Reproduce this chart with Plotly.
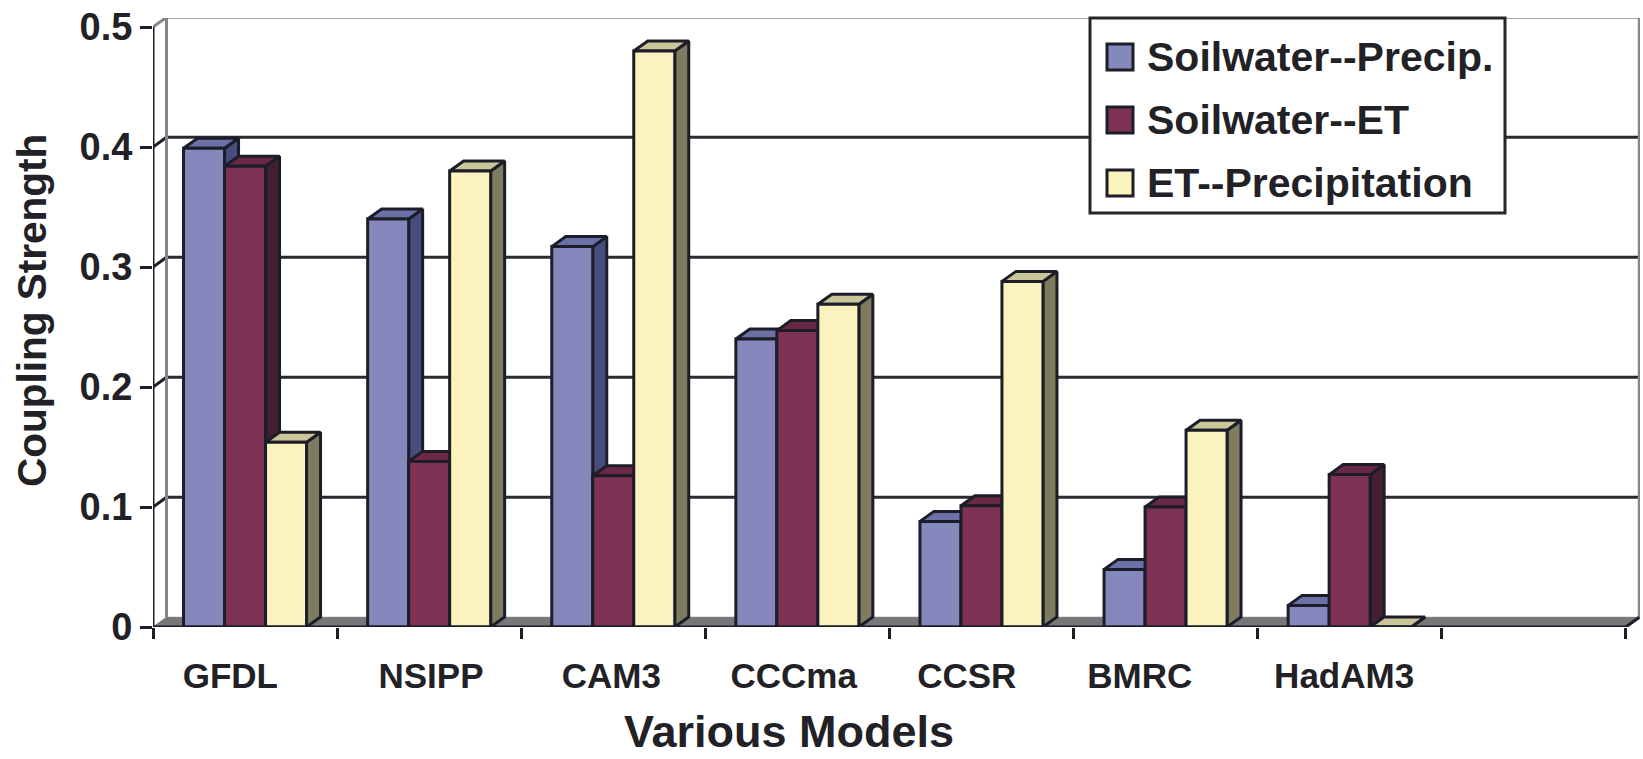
import plotly.graph_objects as go

categories = ["GFDL", "NSIPP", "CAM3", "CCCma", "CCSR", "BMRC", "HadAM3"]
soil_precip = [0.399, 0.340, 0.317, 0.240, 0.088, 0.048, 0.018]
soil_et = [0.384, 0.138, 0.126, 0.247, 0.101, 0.100, 0.127]
et_precip = [0.154, 0.380, 0.480, 0.269, 0.288, 0.164, 0.0]
y_ticks = [0, 0.1, 0.2, 0.3, 0.4, 0.5]
y_labels = ["0", "0.1", "0.2", "0.3", "0.4", "0.5"]
series_names = ["Soilwater--Precip.", "Soilwater--ET", "ET--Precipitation"]

# page geometry
W, H = 1643, 759
L, R, T, B = 153, 1640, 18, 627
SLOT = 184.1
PX_Y = 1200.0
X_MAX = (R - L) / SLOT
Y_MAX = (B - T) / PX_Y
N_SLOTS = 8
WALL_DX, WALL_DY = 13.5 / SLOT, 9.7 / PX_Y
BAR_DX, BAR_DY = 14 / SLOT, 10.0 / PX_Y
BAR_W = 41 / SLOT
label_centres = [0.42, 1.51, 2.49, 3.48, 4.42, 5.36, 6.47]

INK = "#1c1d28"
TEXT = "#212126"
FRONT = ["#8488BD", "#7F3354", "#FBF3BE"]
TOP = ["#6B70A6", "#6A2845", "#C9C79A"]
SIDE = ["#474E7E", "#432030", "#7D7C5F"]
FONT = "Liberation Sans"

fig = go.Figure()


def line(x, y, color, width, axes=("x", "y")):
    fig.add_trace(go.Scatter(x=x, y=y, mode="lines", xaxis=axes[0], yaxis=axes[1],
                             line=dict(color=color, width=width), hoverinfo="skip",
                             showlegend=False, cliponaxis=False))


def poly(x, y, fill, outline, width):
    fig.add_trace(go.Scatter(x=x, y=y, mode="lines", fill="toself", fillcolor=fill,
                             line=dict(color=outline, width=width), hoverinfo="skip",
                             showlegend=False, cliponaxis=False))


# floor and walls
poly([0, N_SLOTS, N_SLOTS + WALL_DX, WALL_DX, 0], [0, 0, WALL_DY, WALL_DY, 0], "#77777A", "#77777A", 1)
for v in y_ticks[1:-1]:
    line([WALL_DX, N_SLOTS + WALL_DX], [v + WALL_DY] * 2, "#2a2a30", 3)
for v in y_ticks[1:-1]:
    line([0, WALL_DX], [v, v + WALL_DY], INK, 3)
top = y_ticks[-1] + WALL_DY
line([0, WALL_DX, WALL_DX], [y_ticks[-1], top, WALL_DY], "#85858a", 3)
line([WALL_DX, N_SLOTS + WALL_DX, N_SLOTS + WALL_DX], [top, top, WALL_DY], "#85858a", 3)

# depth faces of the bars, painted series by series
all_values = [soil_precip, soil_et, et_precip]
for s, values in enumerate(all_values):
    sx, sy, tx, ty = [], [], [], []
    for i, v in enumerate(values):
        left = i + 0.5 + (s - 1.5) * BAR_W
        right = left + BAR_W
        sx += [right, right + BAR_DX, right + BAR_DX, right, right, None]
        sy += [0, BAR_DY, v + BAR_DY, v, 0, None]
        tx += [left, left + BAR_DX, right + BAR_DX, right, left, None]
        ty += [v, v + BAR_DY, v + BAR_DY, v, v, None]
    poly(sx, sy, SIDE[s], INK, 3)
    poly(tx, ty, TOP[s], INK, 3)

# front faces on an overlaying pair of axes, so they cover every depth face
centres = [i + 0.5 for i in range(len(categories))]
for s, values in enumerate(all_values):
    fig.add_trace(go.Bar(x=centres, y=values, name=series_names[s], xaxis="x2", yaxis="y2",
                         marker=dict(color=FRONT[s], line=dict(color=INK, width=3)),
                         showlegend=False, cliponaxis=False))

# front axis lines
line([0, 0], [0, y_ticks[-1]], INK, 3, ("x2", "y2"))
line([0, N_SLOTS, N_SLOTS + WALL_DX], [0, 0, WALL_DY], INK, 3, ("x2", "y2"))


def px(x):
    return (x - L) / (R - L)


def py(y):
    return (B - y) / (B - T)


shapes = [dict(type="rect", xref="paper", yref="paper", x0=px(1090), x1=px(1505), y0=py(213), y1=py(18),
               fillcolor="white", line=dict(color="#26262b", width=3), layer="above")]
annotations = []
for s, (name, yc) in enumerate(zip(series_names, [57, 120, 183])):
    shapes.append(dict(type="rect", xref="paper", yref="paper", x0=px(1107), x1=px(1133),
                       y0=py(yc + 13), y1=py(yc - 13), fillcolor=FRONT[s],
                       line=dict(color=INK, width=3), layer="above"))
    annotations.append(dict(text=name, xref="paper", yref="paper", x=px(1145), y=py(yc), xanchor="left",
                            yanchor="middle", showarrow=False,
                            font=dict(family=FONT, size=41, color=TEXT, weight=700)))
annotations.append(dict(text="Various Models", xref="paper", yref="paper", x=px(789), y=py(731),
                        xanchor="center", yanchor="middle", showarrow=False,
                        font=dict(family=FONT, size=45, color=TEXT, weight=700)))
annotations.append(dict(text="Coupling Strength", xref="paper", yref="paper", x=px(32), y=py(311),
                        xanchor="center", yanchor="middle", showarrow=False, textangle=-90,
                        font=dict(family=FONT, size=40.5, color=TEXT, weight=700)))

fig.update_layout(
    width=W, height=H, autosize=False,
    margin=dict(l=L, r=W - R, t=T, b=H - B, pad=0),
    paper_bgcolor="white", plot_bgcolor="white",
    showlegend=False, barmode="group", bargap=1 - 3 * BAR_W, bargroupgap=0,
    shapes=shapes, annotations=annotations,
    xaxis=dict(range=[0, X_MAX], showgrid=False, zeroline=False, showline=False,
               tickmode="array", tickvals=label_centres, ticktext=categories,
               ticks="outside", ticklen=0, ticklabelstandoff=18,
               tickfont=dict(family=FONT, size=35, color=TEXT, weight=700),
               minor=dict(tickmode="array", tickvals=list(range(N_SLOTS + 1)), ticks="outside",
                          ticklen=11, tickwidth=3, tickcolor=INK, showgrid=False)),
    yaxis=dict(range=[0, Y_MAX], showgrid=False, zeroline=False, showline=False,
               tickmode="array", tickvals=y_ticks, ticktext=y_labels,
               ticks="outside", ticklen=12, tickwidth=3, tickcolor=INK,
               tickfont=dict(family=FONT, size=38, color=TEXT, weight=700)),
    xaxis2=dict(range=[0, X_MAX], overlaying="x", visible=False),
    yaxis2=dict(range=[0, Y_MAX], overlaying="y", visible=False),
)

fig.write_html("out.html", config=dict(displayModeBar=False),
               post_script="document.body.style.margin='0';document.body.style.overflow='hidden';")
